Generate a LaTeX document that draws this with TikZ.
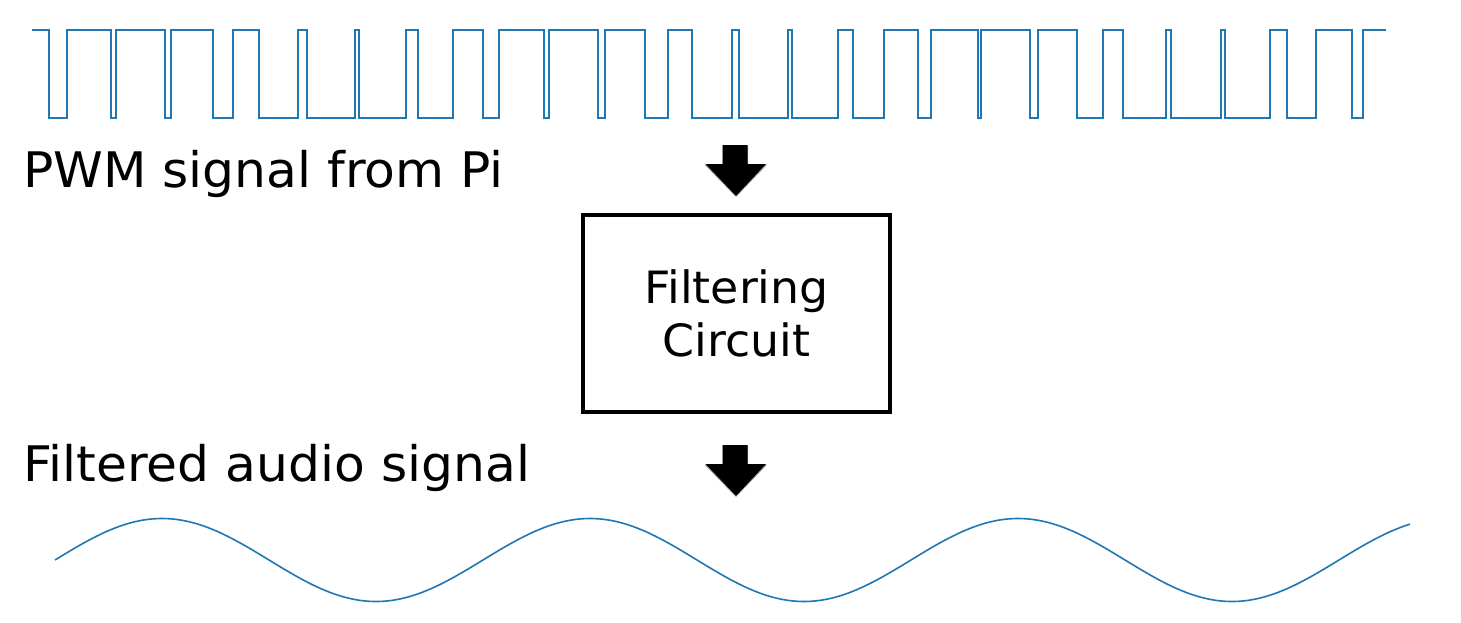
\documentclass[tikz,border=0pt]{standalone}
\usepackage{fontspec}
\setmainfont{DejaVu Sans}
\newfontfamily\labelfont[FakeStretch=1.027]{DejaVu Sans}
\newfontfamily\boxfont[FakeStretch=1.03]{DejaVu Sans}
\definecolor{mplblue}{HTML}{1F77B4}
\tikzset{
  sig/.style={draw=mplblue, line width=2pt, line join=miter},
  wave/.style={draw=mplblue, line width=1.6pt},
  label/.style={anchor=base west, inner sep=0pt, font=\labelfont\fontsize{49}{58}\selectfont},
  filterbox/.style={draw, line width=3.5pt, minimum width=307pt, minimum height=197pt, align=center, inner sep=0pt, font=\boxfont\fontsize{44.5}{53.3}\selectfont},
  downarrow/.pic={
    \fill[black!35] (-13.5,0.8) -- (12,0.8) -- (12,19.8) -- (31,19.8) -- (0,52) -- (-31.5,19.8) -- (-13.5,19.8) -- cycle;
    \fill[black] (-13.5,0) -- (11.5,0) -- (11.5,19) -- (30,19) -- (0,51) -- (-30.5,19) -- (-13.5,19) -- cycle;
  }
}
\begin{document}
\begin{tikzpicture}[x=1pt, y=-1pt]
\useasboundingbox (0,0) rectangle (1461,623);
\fill[white] (0,0) rectangle (1461,623);
% PWM signal
\draw[sig] (32,29.7)
  \foreach \f/\r in {49/67.3, 110.7/115.7, 165/170.7, 213.3/233.3, 259.3/298, 306.7/355, 358.7/406, 418.3/452.7, 483.3/499.3, 544.3/548.7, 597.7/604.7, 645.3/668, 691.7/732, 739.3/788.3, 792/838.3, 852.7/884.3, 918/931, 977.7/981, 1030/1038.3, 1077/1102.7, 1123.3/1165.7, 1171.3/1221, 1225/1270, 1287/1316.3, 1352/1363.3} { -| (\f,118) -| (\r,29.7) } -- (1385.7,29.7);
% labels
\node[label] (pwmlabel) at (23,187.3) {PWM signal from Pi};
\node[label] (audiolabel) at (23,481.7) {Filtered audio signal};
% arrows
\pic at (736,145) {downarrow};
\pic at (736,445) {downarrow};
% filter box
\node[filterbox] (filter) at (736.5,313.5) {Filtering\\Circuit};
% filtered wave
\draw[wave, domain=55:1410, samples=400, smooth] plot (\x, {560 - 41.5*sin(0.841121*(\x-55))});
\end{tikzpicture}
\end{document}
